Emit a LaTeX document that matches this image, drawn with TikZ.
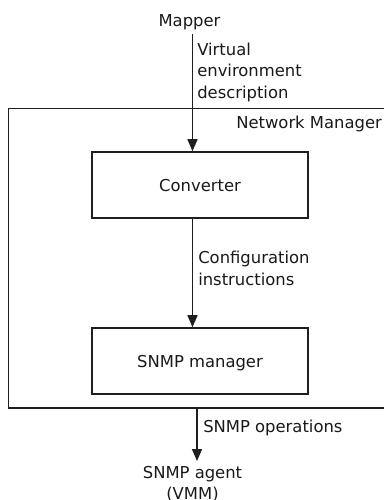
\documentclass[tikz,border=0pt]{standalone}
\usepackage{fontspec}
\setmainfont{DejaVu Sans}
\usetikzlibrary{arrows.meta}

\begin{document}
\begin{tikzpicture}[x=0.75pt, y=-0.75pt,
  every node/.style={font=\fontsize{12.3}{15.8}\selectfont, text=black!90},
  stroke/.style={draw=black!88, line width=1.2pt},
  flow/.style={stroke, -{Triangle[length=9pt, width=7.5pt]}},
  block/.style={stroke, rectangle, minimum width=216*0.75pt, minimum height=66*0.75pt,
                inner sep=0pt, text depth=0pt},
  lbl/.style={align=left, inner sep=0pt, anchor=base west},
  endpoint/.style={align=center, inner sep=3.5pt}]
  \useasboundingbox (0,0) rectangle (384,500);

  % outer frame of the network manager (runs past the right edge)
  \node[stroke, rectangle, inner sep=0pt, minimum width=391.5*0.75pt,
        minimum height=299.5*0.75pt] (nm) at (204.25,258.25) {};
  \node[lbl] (nmlabel) at (236,128) {Network Manager};

  % components
  \node[anchor=base, inner sep=3pt] (mapper) at (189.5,26.5) {Mapper};
  \node[block] (conv) at (200,185) {Converter};
  \node[block] (snmp) at (200,361) {SNMP manager};
  \node[endpoint, anchor=north] (agent) at (192.5,461) {SNMP agent\\(VMM)};

  % arrow columns
  \coordinate (colA) at (192.5,0);
  \coordinate (colB) at (197,0);

  % connectors
  \draw[flow] (mapper.south -| colA) -- (conv.north -| colA);
  \draw[flow] (conv.south -| colA) -- (snmp.north -| colA);
  \draw[flow] (nm.south -| colB) -- (agent.north -| colB);

  % connector labels (base anchor sits on the last line)
  \node[lbl] (vedesc) at (197,98) {Virtual\\environment\\description};
  \node[lbl] (cfginst) at (198,285) {Configuration\\instructions};
  \node[lbl] (snmpops) at (203,432) {SNMP operations};
\end{tikzpicture}
\end{document}
